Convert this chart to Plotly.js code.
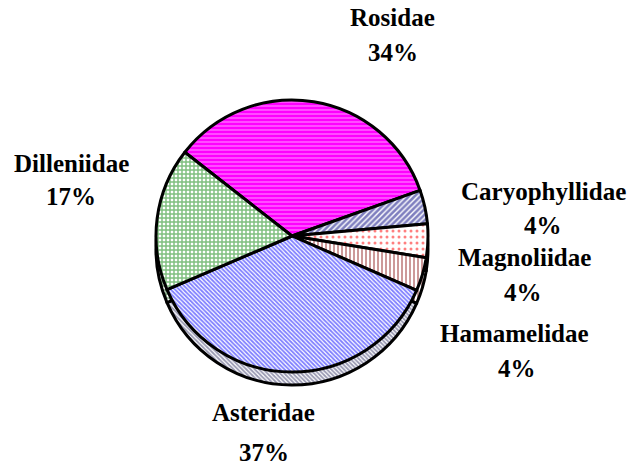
<!DOCTYPE html>
<html><head><meta charset="utf-8">
<script src="https://cdn.plot.ly/plotly-3.0.1.min.js"></script>
<style>html,body{margin:0;padding:0;background:#fff}#chart{width:628px;height:474px}</style>
</head><body><div id="chart"></div>
<script>
const labels = ['Rosidae', 'Caryophyllidae', 'Magnoliidae', 'Hamamelidae', 'Asteridae', 'Dilleniidae'];
const values = [34, 4, 4, 4, 37, 17];

const fg = ['#FFFFFF', '#000080', '#FF0000', '#800000', '#0000FF', '#008000'];
const fgSide = ['#FFFFFF', '#000050', '#CC0000', '#600000', '#333366', '#005000'];
const bg = ['#FF00FF', '#FFFFFF', '#FFFFFF', '#FFFFFF', '#FFFFFF', '#FFFFFF'];
const shapes = ['-', '/', '.', '|', '\\', '+'];
const sizes = [4, 4, 6, 4, 3, 4];
const solid = [0.3, 0.65, 0.2, 0.4, 0.6, 0.6];

// label placement (paper px): [name x, name y, pct x, pct y]
const labelPos = [
  [392, 17, 393, 52],
  [543, 192, 543, 226],
  [524, 257, 523, 292],
  [514, 333, 517, 368],
  [263, 412, 264, 452],
  [71, 163, 71, 197]
];

const W = 628, H = 474, R = 136, CX = 292, CY = 236, DEPTH = 13;

function pie(fgc, cy) {
  return {
    type: 'pie', labels: labels, values: values, sort: false,
    direction: 'clockwise', rotation: -52,
    marker: {
      colors: bg,
      line: {color: '#000', width: 3},
      pattern: {shape: shapes, fgcolor: fgc, bgcolor: bg, size: sizes, solidity: solid, fillmode: 'overlay'}
    },
    domain: {x: [(CX - R) / W, (CX + R) / W], y: [1 - (cy + R) / H, 1 - (cy - R) / H]},
    textinfo: 'none', hoverinfo: 'skip', showlegend: false
  };
}

const backPie = pie(fgSide, CY + DEPTH);
const topPie = pie(fg, CY);

const total = values.reduce((a, b) => a + b, 0);
const font = {family: 'Liberation Serif, Times New Roman, serif', size: 25, color: '#000'};
const annotations = [];
labels.forEach((lab, i) => {
  const p = labelPos[i];
  annotations.push({xref: 'paper', yref: 'paper', x: p[0] / W, y: 1 - p[1] / H, xanchor: 'center', yanchor: 'middle',
    text: '<b>' + lab + '</b>', showarrow: false, font: font});
  annotations.push({xref: 'paper', yref: 'paper', x: p[2] / W, y: 1 - p[3] / H, xanchor: 'center', yanchor: 'middle',
    text: '<b>' + Math.round(values[i] / total * 100) + '%</b>', showarrow: false, font: font});
});

Plotly.newPlot('chart', [backPie, topPie], {
  width: W, height: H,
  margin: {l: 0, r: 0, t: 0, b: 0},
  paper_bgcolor: '#fff', plot_bgcolor: '#fff',
  annotations: annotations
}, {displayModeBar: false, staticPlot: true});
</script></body></html>
